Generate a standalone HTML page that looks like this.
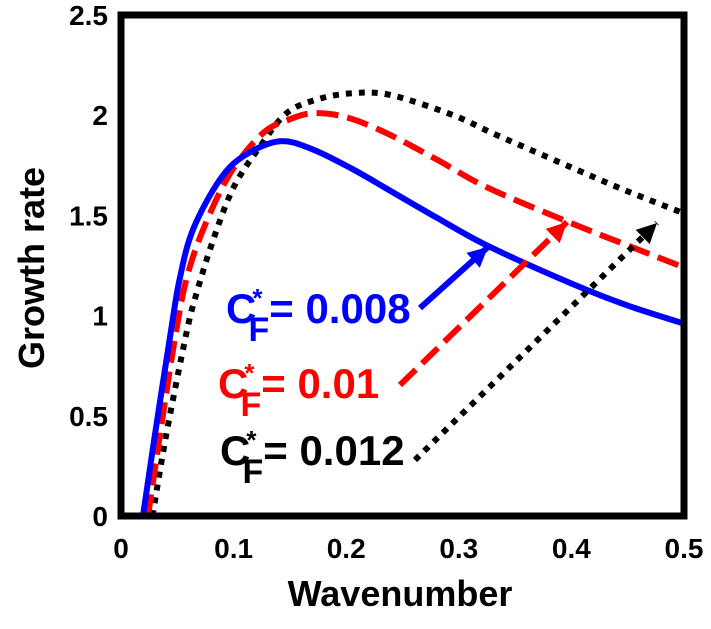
<!DOCTYPE html>
<html><head><meta charset="utf-8"><style>
body{margin:0;background:#fff}
svg text{font-family:"Liberation Sans",Arial,sans-serif;font-weight:bold}
</style></head><body>
<svg id="chart" width="711" height="624" viewBox="0 0 711 624">
<g id="grid"></g><g id="series"></g>
<rect x="121" y="15" width="563" height="501" fill="none" stroke="#000" stroke-width="7"/>
<g id="ann"></g>
</svg>
<script>
const xs=[0.0195,0.03,0.044,0.052,0.064,0.088,0.11,0.141,0.17,0.206,0.24,0.28,0.325,0.4,0.45,0.5];
const blueY=[0,0.4,0.91,1.18,1.43,1.68,1.8,1.87,1.83,1.73,1.62,1.49,1.35,1.16,1.05,0.96];
const xsR=[0.024,0.035,0.048,0.058,0.073,0.097,0.126,0.15,0.171,0.2,0.236,0.28,0.325,0.396,0.45,0.5];
const redY=[0,0.42,0.89,1.18,1.43,1.71,1.91,1.98,2.01,1.99,1.91,1.78,1.64,1.47,1.35,1.24];
const xsK=[0.028,0.04,0.058,0.067,0.082,0.1,0.123,0.147,0.175,0.206,0.24,0.295,0.334,0.408,0.45,0.5];
const blackY=[0,0.4,0.91,1.11,1.38,1.64,1.84,2.01,2.08,2.11,2.1,2.0,1.9,1.72,1.62,1.51];
const xTicks=[0,0.1,0.2,0.3,0.4,0.5];
const yTicks=[0,0.5,1,1.5,2,2.5];
const sx=v=>121+v*1126, sy=v=>516-v*200.4;
const NS="http://www.w3.org/2000/svg";
function mk(t,a,p){const e=document.createElementNS(NS,t);for(const k in a)e.setAttribute(k,a[k]);p.appendChild(e);return e;}
const g=document.getElementById('grid'),s=document.getElementById('series'),an=document.getElementById('ann');
xTicks.forEach(t=>{const e=mk('text',{x:sx(t),y:558,'font-size':28,'text-anchor':'middle'},g);e.textContent=t;

});
yTicks.forEach(t=>{const e=mk('text',{x:108,y:sy(t)+10,'font-size':28,'text-anchor':'end'},g);e.textContent=t;

});
let xt=mk('text',{x:400,y:606,'font-size':36,'text-anchor':'middle'},g);xt.textContent='Wavenumber';


let yt=mk('text',{x:0,y:0,'font-size':36,'text-anchor':'middle',transform:'translate(44,268) rotate(-90)'},g);yt.textContent='Growth rate';


function line(X,Y,col,dash,name){
const P=X.map((x,i)=>[sx(x),sy(Y[i])]);
let d='M'+P[0][0]+','+P[0][1];
for(let i=0;i<P.length-1;i++){const p0=P[Math.max(0,i-1)],p1=P[i],p2=P[i+1],p3=P[Math.min(P.length-1,i+2)];
const c1=[p1[0]+(p2[0]-p0[0])/6,p1[1]+(p2[1]-p0[1])/6],c2=[p2[0]-(p3[0]-p1[0])/6,p2[1]-(p3[1]-p1[1])/6];
d+=`C${c1[0]},${c1[1]} ${c2[0]},${c2[1]} ${p2[0]},${p2[1]}`;}
const p=mk('path',{d:d,fill:'none',stroke:col,'stroke-width':6,'stroke-dasharray':dash,'stroke-linejoin':'round'},s);

}
line(xsK,blackY,'#000','6 7','series-cf-0.012');
line(xsR,redY,'#f00','22 9','series-cf-0.01');
line(xs,blueY,'#00f','none','series-cf-0.008');
function arrow(x1,y1,x2,y2,col,dash,name){
const p=mk('line',{x1:x1,y1:y1,x2:x2,y2:y2,stroke:col,'stroke-width':6,'stroke-dasharray':dash},an);


const a=Math.atan2(y2-y1,x2-x1),L=20,W=10;
const bx=x2-L*Math.cos(a),by=y2-L*Math.sin(a);
const h=mk('polygon',{points:`${x2},${y2} ${bx+W*Math.sin(a)},${by-W*Math.cos(a)} ${bx-W*Math.sin(a)},${by+W*Math.cos(a)}`,fill:col},an);

}
arrow(420,308,488,247,'#00f','none','arrow-0.008');
arrow(400,385,567,222,'#f00','22 9','arrow-0.01');
arrow(415,460,657,223,'#000','6 7','arrow-0.012');
function lab(x,y,col,val,name){const t=mk('text',{x:x,y:y,'font-size':42,fill:col},an);
t.innerHTML='C<tspan dy="-16" dx="-4" font-size="26">*</tspan><tspan dx="-14" dy="34" font-size="34">F</tspan><tspan dy="-18" dx="0">= '+val+'</tspan>';

}
lab(226,323,'#00f','0.008','label-cf-0.008');
lab(218,398,'#f00','0.01','label-cf-0.01');
lab(220,465,'#000','0.012','label-cf-0.012');
</script>
</body></html>
